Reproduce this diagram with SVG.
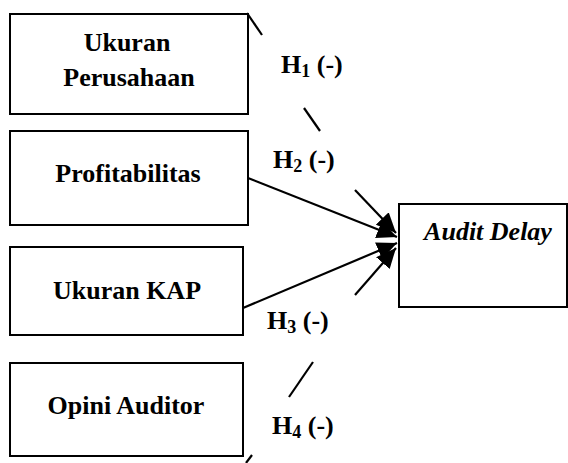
<svg xmlns="http://www.w3.org/2000/svg" width="568" height="463" viewBox="0 0 568 463">
<style>
.box{fill:#fff;stroke:#000;stroke-width:2}
.t{font-family:"Liberation Serif","Times New Roman",serif;font-weight:bold;font-size:26px;fill:#000}
.it{font-style:italic}
.c{stroke:#000;stroke-width:2.2;fill:none}
.sub{font-size:18px}
</style>
<defs>
<marker id="ah" markerUnits="userSpaceOnUse" markerWidth="22" markerHeight="18" refX="20" refY="9" orient="auto">
<path d="M0,0 L20,9 L0,18 Z" fill="#000"/>
</marker>
</defs>
<rect width="568" height="463" fill="#fff"/>
<g id="connectors">
<line class="c" x1="248" y1="178" x2="397" y2="237" marker-end="url(#ah)"/>
<line class="c" x1="243" y1="308" x2="397" y2="243" marker-end="url(#ah)"/>
<line class="c" x1="247" y1="13" x2="262" y2="35"/>
<line class="c" x1="304" y1="108" x2="320" y2="131"/>
<line class="c" x1="355" y1="190" x2="396" y2="233" marker-end="url(#ah)"/>
<line class="c" x1="246" y1="463" x2="252" y2="455"/>
<line class="c" x1="289" y1="397" x2="313" y2="362"/>
<line class="c" x1="355" y1="295" x2="396" y2="248" marker-end="url(#ah)"/>
</g>
<g id="ukuran-perusahaan">
<rect class="box" x="10" y="14" width="238" height="100"/>
<text class="t" x="127" y="51" text-anchor="middle">Ukuran</text>
<text class="t" x="129" y="86" text-anchor="middle">Perusahaan</text>
</g>
<g id="profitabilitas">
<rect class="box" x="10" y="131" width="238" height="94"/>
<text class="t" x="128" y="182" text-anchor="middle">Profitabilitas</text>
</g>
<g id="ukuran-kap">
<rect class="box" x="10" y="247" width="233" height="88"/>
<text class="t" x="127" y="299" text-anchor="middle">Ukuran KAP</text>
</g>
<g id="opini-auditor">
<rect class="box" x="10" y="363" width="233" height="93"/>
<text class="t" x="126" y="414" text-anchor="middle">Opini Auditor</text>
</g>
<g id="audit-delay">
<rect class="box" x="399" y="204" width="168" height="103"/>
<text class="t it" x="488" y="240" text-anchor="middle">Audit Delay</text>
</g>
<g id="labels">
<text class="t" x="281" y="73">H<tspan class="sub" dy="4">1</tspan><tspan dy="-4"> (-)</tspan></text>
<text class="t" x="273" y="168">H<tspan class="sub" dy="4">2</tspan><tspan dy="-4"> (-)</tspan></text>
<text class="t" x="267" y="329">H<tspan class="sub" dy="4">3</tspan><tspan dy="-4"> (-)</tspan></text>
<text class="t" x="272" y="434">H<tspan class="sub" dy="4">4</tspan><tspan dy="-4"> (-)</tspan></text>
</g>
</svg>
